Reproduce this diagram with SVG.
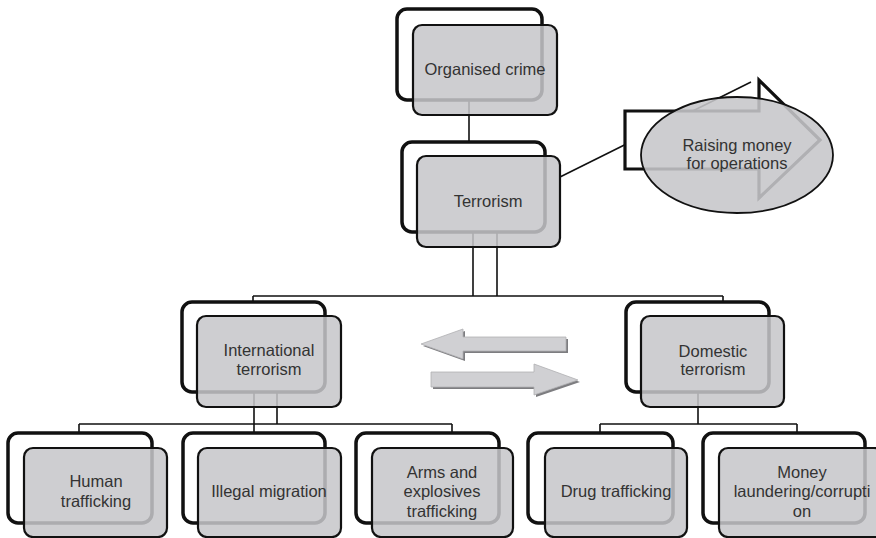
<svg xmlns="http://www.w3.org/2000/svg" width="876" height="538" viewBox="0 0 876 538">
  <style>
    .frame { fill: none; stroke: #111; stroke-width: 3.5; }
    .card { fill: #c6c6ca; fill-opacity: 0.86; stroke: #111; stroke-width: 2.2; }
    .link { fill: none; stroke: #111; stroke-width: 1.6; }
    .label { font-family: "Liberation Sans", Arial, sans-serif; font-size: 16.5px; fill: #333; text-anchor: middle; }
    .flow { fill: #d0d0d3; stroke: #b0b0b3; stroke-width: 0.8; }
    .flow-shadow { fill: #7d7d80; }
  </style>

  <rect width="876" height="538" fill="#fff"/>

  <!-- connectors (drawn beneath the cards) -->
  <g id="connectors">
    <path class="link" d="M469,100 V142"/>
    <path class="link" d="M473,232 V296 M497,232 V296"/>
    <path class="link" d="M253,296 H723 M253,296 V302 M723,296 V302"/>
    <path class="link" d="M254,392 V433 M277,392 V424"/>
    <path class="link" d="M79,424 H452 M79,424 V433 M452,424 V433"/>
    <path class="link" d="M698,392 V424" stroke-width="2.6"/>
    <path class="link" d="M600,424 H797 M600,424 V433 M797,424 V433"/>
    <path class="link" d="M560,177 L751,82"/>
  </g>

  <g id="organised-crime">
    <rect class="frame" x="397" y="9" width="145" height="91" rx="10"/>
    <rect class="card" x="413" y="25" width="144" height="90" rx="9"/>
    <text class="label" x="485" y="75">Organised crime</text>
  </g>

  <g id="terrorism">
    <rect class="frame" x="402" y="142" width="143" height="90" rx="10"/>
    <rect class="card" x="417" y="156" width="143" height="91" rx="9"/>
    <text class="label" x="488" y="207">Terrorism</text>
  </g>

  <g id="raising-money">
    <path d="M625,111 H759 V80 L820,140 L759,198 V169 H625 Z" fill="#fff" stroke="#111" stroke-width="3.2" stroke-linejoin="miter"/>
    <ellipse cx="737" cy="155" rx="96" ry="58" fill="#c6c6ca" fill-opacity="0.88" stroke="#111" stroke-width="1.8"/>
    <text class="label" x="737" y="151">Raising money</text>
    <text class="label" x="737" y="169">for operations</text>
  </g>

  <g id="international-terrorism">
    <rect class="frame" x="182" y="302" width="143" height="90" rx="10"/>
    <rect class="card" x="197" y="316" width="144" height="91" rx="9"/>
    <text class="label" x="269" y="356">International</text>
    <text class="label" x="269" y="375">terrorism</text>
  </g>

  <g id="domestic-terrorism">
    <rect class="frame" x="626" y="302" width="143" height="90" rx="10"/>
    <rect class="card" x="641" y="316" width="143" height="91" rx="9"/>
    <text class="label" x="713" y="357">Domestic</text>
    <text class="label" x="713" y="375">terrorism</text>
  </g>

  <!-- two-way exchange between the two branches -->
  <g id="exchange-arrows">
    <path class="flow-shadow" d="M423,346 L465,331 V339 H568 V353 H465 V361 Z"/>
    <path class="flow" d="M421,344 L463,329 V337 H566 V351 H463 V359 Z"/>
    <path class="flow-shadow" d="M433,374 H536 V366 L580,382 L536,397 V389 H433 Z"/>
    <path class="flow" d="M431,372 H534 V364 L578,380 L534,395 V387 H431 Z"/>
  </g>

  <g id="human-trafficking">
    <rect class="frame" x="8" y="433" width="144" height="90" rx="10"/>
    <rect class="card" x="24" y="448" width="143" height="89" rx="9"/>
    <text class="label" x="96" y="487">Human</text>
    <text class="label" x="96" y="507">trafficking</text>
  </g>

  <g id="illegal-migration">
    <rect class="frame" x="183" y="433" width="142" height="90" rx="10"/>
    <rect class="card" x="198" y="448" width="143" height="89" rx="9"/>
    <text class="label" x="269" y="497">Illegal migration</text>
  </g>

  <g id="arms-trafficking">
    <rect class="frame" x="356" y="433" width="143" height="90" rx="10"/>
    <rect class="card" x="372" y="448" width="141" height="89" rx="9"/>
    <text class="label" x="442" y="478">Arms and</text>
    <text class="label" x="442" y="497">explosives</text>
    <text class="label" x="442" y="517">trafficking</text>
  </g>

  <g id="drug-trafficking">
    <rect class="frame" x="528" y="433" width="145" height="90" rx="10"/>
    <rect class="card" x="545" y="448" width="142" height="89" rx="9"/>
    <text class="label" x="616" y="497">Drug trafficking</text>
  </g>

  <g id="money-laundering">
    <rect class="frame" x="703" y="433" width="162" height="90" rx="10"/>
    <rect class="card" x="719" y="448" width="164" height="89" rx="9"/>
    <text class="label" x="802" y="478">Money</text>
    <text class="label" x="802" y="497">laundering/corrupti</text>
    <text class="label" x="802" y="517">on</text>
  </g>
</svg>
